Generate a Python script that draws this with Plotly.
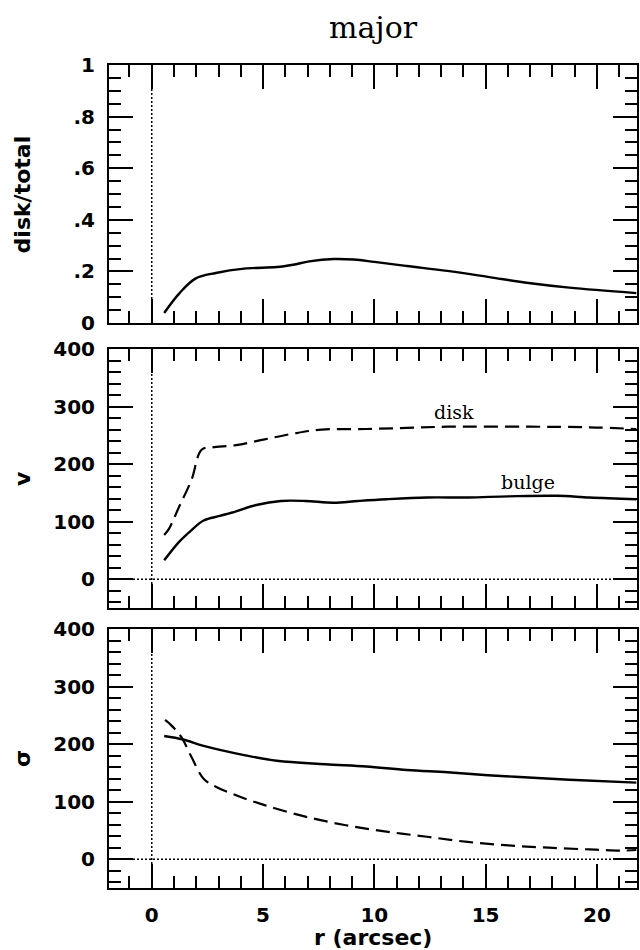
import plotly.graph_objects as go
from plotly.subplots import make_subplots

# ---- data ----
r_ratio = [0.56, 1.23, 1.96, 2.88, 4.15, 5.62, 6.35, 7.08, 8.17, 9.08, 10.0, 11.46, 13.28, 15.1, 16.93, 18.76, 21.77]
disk_total = [0.039, 0.114, 0.172, 0.194, 0.211, 0.217, 0.226, 0.239, 0.248, 0.246, 0.237, 0.221, 0.202, 0.179, 0.155, 0.137, 0.116]

r_vb = [0.56, 1.23, 1.78, 2.33, 3.06, 3.79, 4.7, 5.8, 6.9, 8.17, 9.27, 10.54, 12.37, 14.19, 16.02, 18.2, 19.67, 21.77]
v_bulge = [33, 65, 85, 102, 110, 118, 129, 136, 136, 133, 136, 139, 142, 142, 144, 145, 142, 139]

r_vd = [0.56, 0.78, 1.23, 1.78, 2.24, 2.7, 3.79, 5.07, 6.35, 7.63, 9.64, 11.46, 13.29, 16.93, 19.67, 21.77]
v_disk = [77, 88, 126, 172, 225, 229, 233, 243, 253, 260, 261, 263, 265, 265, 264, 261]

r_sb = [0.56, 1.41, 2.33, 4.15, 5.62, 7.8, 9.64, 11.46, 13.29, 15.1, 16.93, 18.76, 21.77]
s_bulge = [214, 208, 197, 181, 171, 165, 161, 155, 151, 146, 142, 138, 133]

r_sd = [0.6, 0.87, 1.32, 1.78, 2.33, 2.88, 3.79, 5.07, 6.9, 8.72, 10.54, 12.37, 14.19, 16.02, 17.84, 19.67, 21.1, 21.77]
s_disk = [242, 233, 213, 178, 140, 126, 111, 94, 74, 59, 48, 39, 30, 24, 20, 17, 15, 16]

x_ticks = [0, 5, 10, 15, 20]
ratio_ticks = [0, 0.2, 0.4, 0.6, 0.8, 1]
ratio_labels = ["0", ".2", ".4", ".6", ".8", "1"]
v_ticks = [0, 100, 200, 300, 400]

fig = make_subplots(rows=3, cols=1, shared_xaxes=True, vertical_spacing=0.03)

solid = dict(color="black", width=2.4)
dashed = dict(color="black", width=2.2, dash="14px,7px")

fig.add_trace(go.Scatter(x=r_ratio, y=disk_total, mode="lines", line=solid, line_shape="spline"), 1, 1)
fig.add_trace(go.Scatter(x=r_vd, y=v_disk, mode="lines", line=dashed, line_shape="spline"), 2, 1)
fig.add_trace(go.Scatter(x=r_vb, y=v_bulge, mode="lines", line=solid, line_shape="spline"), 2, 1)
fig.add_trace(go.Scatter(x=r_sb, y=s_bulge, mode="lines", line=solid, line_shape="spline"), 3, 1)
fig.add_trace(go.Scatter(x=r_sd, y=s_disk, mode="lines", line=dashed, line_shape="spline"), 3, 1)

dot = dict(color="black", width=1.5, dash="2px,2px")
for row in (1, 2, 3):
    fig.add_vline(x=0, line=dot, row=row, col=1)
for row in (2, 3):
    fig.add_hline(y=0, line=dot, row=row, col=1)

tickfont = dict(family="DejaVu Sans", size=20, color="black", weight="bold")
axis_common = dict(
    showline=True, linecolor="black", linewidth=2, mirror="allticks",
    ticks="inside", ticklen=24, tickwidth=2, tickcolor="black",
    showgrid=False, zeroline=False, tickfont=tickfont,
)

for row in (1, 2, 3):
    fig.update_xaxes(
        range=[-1.92, 21.8], tickvals=x_ticks, showticklabels=(row == 3),
        minor=dict(dtick=1, tick0=0, ticks="inside", ticklen=12, tickwidth=2, tickcolor="black", showgrid=False),
        ticklabelstandoff=8,
        **axis_common, row=row, col=1,
    )

fig.update_yaxes(
    range=[0, 1], tickvals=ratio_ticks, ticktext=ratio_labels,
    minor=dict(dtick=0.05, tick0=0, ticks="inside", ticklen=12, tickwidth=2, tickcolor="black", showgrid=False),
    ticklabelstandoff=8, **axis_common, row=1, col=1,
)
for row in (2, 3):
    fig.update_yaxes(
        range=[-50, 400], tickvals=v_ticks,
        minor=dict(dtick=20, tick0=0, ticks="inside", ticklen=12, tickwidth=2, tickcolor="black", showgrid=False),
        ticklabelstandoff=8, **axis_common, row=row, col=1,
    )

# explicit domains to match panel placement
fig.update_layout(
    yaxis=dict(domain=[0.6865, 1.0]),
    yaxis2=dict(domain=[0.3402, 0.6549]),
    yaxis3=dict(domain=[0.0, 0.3147]),
)

titlefont = dict(family="DejaVu Sans", size=22, color="black", weight="bold")
ann = [
    dict(text="disk/total", x=-0.164, y=(0.6865 + 1.0) / 2, textangle=-90, font=titlefont),
    dict(text="v", x=-0.164, y=(0.3402 + 0.6549) / 2, textangle=-90, font=titlefont),
    dict(text="σ", x=-0.164, y=0.3147 / 2, textangle=-90, font=titlefont),
    dict(text="r (arcsec)", x=0.5, y=-0.0605, font=titlefont),
    dict(text="major", x=0.5, y=1.045, font=dict(family="DejaVu Serif", size=30, color="black")),
]
for a in ann:
    fig.add_annotation(xref="paper", yref="paper", showarrow=False,
                       xanchor="center", yanchor="middle", **a)

serif = dict(family="DejaVu Serif", size=19, color="black")
fig.add_annotation(x=13.6, y=290, xref="x2", yref="y2", text="disk", showarrow=False, font=serif)
fig.add_annotation(x=16.9, y=169, xref="x2", yref="y2", text="bulge", showarrow=False, font=serif)

fig.update_layout(
    width=640, height=950,
    margin=dict(l=109, r=1, t=65, b=62),
    paper_bgcolor="white", plot_bgcolor="white",
    showlegend=False,
)

fig.write_html("out.html")
